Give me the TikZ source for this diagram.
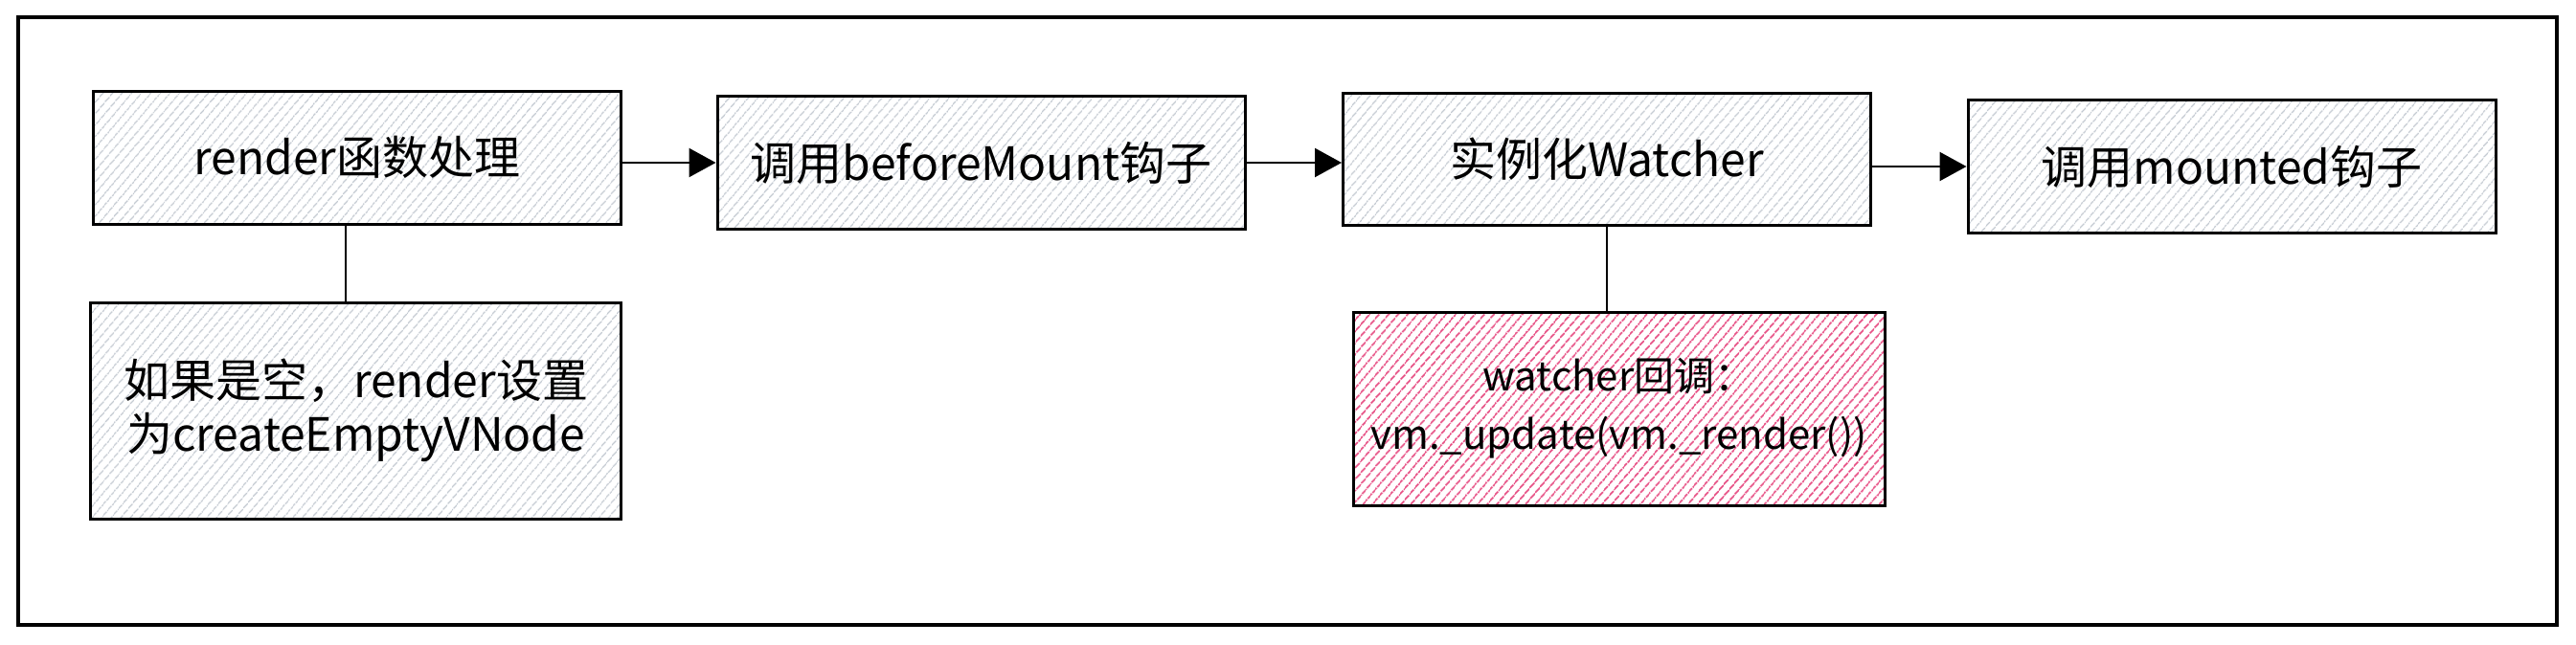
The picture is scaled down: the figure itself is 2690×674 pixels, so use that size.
\documentclass[tikz,border=0pt]{standalone}
\usepackage{fontspec}
\setmainfont{Noto Sans CJK SC}
\usetikzlibrary{patterns.meta,arrows.meta}
\definecolor{hgray}{HTML}{C2C8D0}
\definecolor{hpink}{HTML}{E64980}
\begin{document}
\begin{tikzpicture}[x=0.5pt,y=-0.5pt,
  box/.style={draw=black, line width=1.5pt, inner sep=0pt, align=center,
    pattern={Lines[angle=50,distance=4pt,line width=0.75pt]}, pattern color=hgray,
    font=\fontsize{24pt}{28pt}\selectfont},
  pinkbox/.style={box, pattern={Lines[angle=50,distance=4pt,line width=1pt]}, pattern color=hpink,
    font=\fontsize{21pt}{30.5pt}\selectfont},
  arr/.style={line width=1.2pt, -{Triangle[length=14pt,width=15pt]}},
  conn/.style={line width=1.2pt}]
\useasboundingbox (0,0) rectangle (2690,674);
\draw[line width=1.8pt] (19,18) rectangle (2670,653);
\node[box, minimum width=275.5pt, minimum height=69.5pt] (b1) at (373,164.7) {render函数处理};
\node[box, minimum width=275.5pt, minimum height=69.5pt] (b2) at (1024.5,170) {调用beforeMount钩子};
\node[box, minimum width=275.5pt, minimum height=68.5pt] (b3) at (1678,166.5) {实例化Watcher};
\node[box, minimum width=275.5pt, minimum height=69.75pt] (b4) at (2330.5,174) {调用mounted钩子};
\node[box, minimum width=277pt, minimum height=113pt] (b5) at (371.7,429) {如果是空，render设置\\为createEmptyVNode};
\node[pinkbox, minimum width=277.5pt, minimum height=101pt] (b6) at (1690.5,427) {watcher回调：\\vm.\_update(vm.\_render())};
\draw[arr] (b1.east |- b2.west) -- (b2.west);
\draw[arr] (b2.east) -- (b2.east -| b3.west);
\draw[arr] (b3.east |- b4.west) -- (b4.west);
\draw[conn] ([xshift=-6pt]b1.south) -- ([xshift=-6pt]b1.south |- b5.north);
\draw[conn] (b3.south) -- (b3.south |- b6.north);
\end{tikzpicture}
\end{document}
